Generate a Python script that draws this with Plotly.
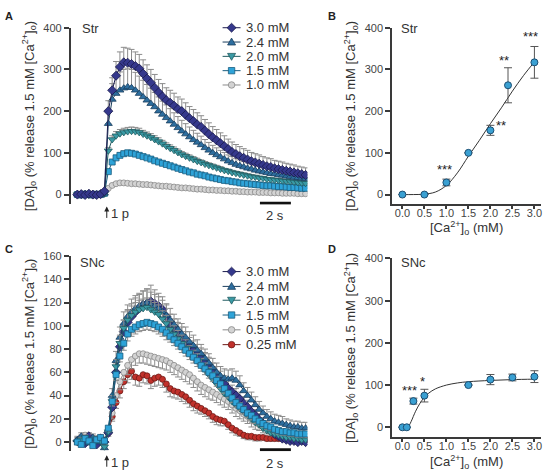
import plotly.graph_objects as go

W, H = 547, 473
def px(x): return x / W
def py(y): return 1 - y / H

# ---------------- data ----------------
T0 = -1.9      # first sample time (s), stimulus at 0
DT = 0.25      # sampling interval (s)

A_names = ["3.0 mM", "2.4 mM", "2.0 mM", "1.5 mM", "1.0 mM"]
A30 = [0, 1, -1, 2, 0, -1, 1, 8, 200, 250,
       285, 306, 317, 316, 313, 308, 302, 290, 278, 268,
       256, 245, 235, 226, 220, 213, 205, 200, 191, 183,
       176, 168, 162, 153, 145, 137, 130, 123, 116, 109,
       102, 97, 92, 88, 84, 80, 77, 74, 71, 68,
       66, 63, 61, 59, 57, 55, 53, 51, 49, 47]
A30_err = [2, 2, 2, 2, 2, 2, 2, 4, 25, 30,
           34, 36, 36, 35, 35, 34, 34, 33, 33, 32,
           32, 31, 31, 30, 30, 30, 29, 29, 29, 28,
           28, 28, 27, 27, 27, 26, 26, 25, 25, 24,
           24, 23, 23, 22, 22, 21, 21, 21, 20, 20,
           20, 19, 19, 19, 18, 18, 18, 17, 17, 17]
A24 = [1, 0, 2, -1, 1, 0, -1, 3, 170, 228,
       242, 250, 255, 258, 256, 250, 242, 234, 226, 218,
       210, 200, 192, 184, 176, 168, 160, 152, 145, 138,
       131, 125, 119, 112, 106, 100, 95, 90, 85, 80,
       76, 72, 69, 66, 63, 61, 58, 56, 54, 52,
       50, 49, 47, 46, 44, 43, 41, 40, 39, 38]
A24_err = [2, 2, 2, 2, 2, 2, 2, 3, 30, 38,
           42, 44, 45, 45, 44, 43, 42, 40, 38, 37,
           35, 34, 32, 31, 30, 28, 27, 26, 25, 24,
           23, 22, 21, 20, 19, 18, 17, 16, 16, 15,
           15, 14, 14, 13, 13, 12, 12, 12, 11, 11,
           11, 10, 10, 10, 10, 9, 9, 9, 9, 9]
A20 = [0, 1, 0, -1, 1, 2, 0, 2, 105, 132,
       141, 146, 149, 151, 152, 151, 149, 145, 141, 137,
       132, 127, 122, 116, 111, 106, 101, 96, 92, 88,
       84, 80, 77, 73, 70, 67, 64, 61, 58, 56,
       53, 51, 49, 47, 45, 43, 42, 40, 39, 37,
       36, 35, 34, 33, 32, 31, 30, 29, 28, 27]
A20_err = [1, 1, 1, 1, 1, 1, 1, 2, 8, 9,
           10, 10, 10, 10, 10, 10, 10, 9, 9, 9,
           9, 9, 8, 8, 8, 8, 8, 7, 7, 7,
           7, 7, 6, 6, 6, 6, 6, 6, 5, 5,
           5, 5, 5, 5, 5, 5, 4, 4, 4, 4,
           4, 4, 4, 4, 4, 4, 4, 4, 4, 4]
A15 = [0, -1, 1, 0, -1, 1, 0, 3, 55, 78,
       88, 94, 98, 100, 99, 97, 94, 91, 88, 85,
       81, 78, 75, 72, 69, 66, 63, 60, 57, 54,
       52, 49, 47, 45, 42, 40, 38, 36, 34, 33,
       31, 30, 28, 27, 26, 25, 24, 23, 22, 21,
       21, 20, 19, 19, 18, 17, 17, 16, 15, 15]
A15_err = [1, 1, 1, 1, 1, 1, 1, 1, 4, 5,
           6, 6, 6, 6, 6, 6, 5, 5, 5, 5,
           5, 5, 5, 5, 4, 4, 4, 4, 4, 4,
           4, 4, 4, 4, 4, 3, 3, 3, 3, 3,
           3, 3, 3, 3, 3, 3, 3, 3, 3, 3,
           3, 3, 3, 3, 3, 3, 3, 3, 3, 3]
A10 = [0, 1, 0, -1, 0, 1, 0, 2, 15, 22,
       26, 28, 28, 27, 26, 26, 25, 24, 24, 23,
       22, 21, 20, 20, 19, 18, 17, 16, 16, 15,
       14, 13, 13, 12, 11, 11, 10, 10, 9, 9,
       8, 8, 7, 7, 6, 6, 6, 5, 5, 5,
       4, 4, 4, 3, 3, 3, 3, 2, 2, 2]
A10_err = [1, 1, 1, 1, 1, 1, 1, 1, 3, 3,
           3, 3, 3, 3, 3, 3, 3, 3, 3, 3,
           3, 3, 3, 3, 3, 3, 3, 2, 2, 2,
           2, 2, 2, 2, 2, 2, 2, 2, 2, 2,
           2, 2, 2, 2, 2, 2, 2, 2, 2, 2,
           2, 2, 2, 2, 2, 2, 2, 2, 2, 2]

C_names = ["3.0 mM", "2.4 mM", "2.0 mM", "1.5 mM", "0.5 mM", "0.25 mM"]
C30 = [1, 3, -1, 5, 2, -2, 3, 0, 8, 30,
       60, 82, 95, 103, 108, 112, 115, 118, 119, 121,
       119, 117, 114, 108, 100, 97, 94, 90, 86, 82,
       79, 76, 73, 69, 65, 61, 58, 54, 50, 46,
       43, 40, 37, 33, 30, 26, 23, 19, 16, 13,
       10, 7, 5, 3, 2, 1, 1, 0, 1, 0]
C30_err = [3, 3, 3, 3, 3, 3, 3, 3, 4, 6,
           8, 9, 10, 11, 11, 12, 12, 12, 13, 14,
           12, 11, 11, 10, 10, 9, 9, 9, 9, 8,
           8, 8, 8, 8, 8, 7, 7, 7, 7, 7,
           6, 6, 6, 6, 6, 5, 5, 5, 5, 5,
           4, 4, 4, 3, 3, 3, 3, 3, 3, 3]
C24 = [2, 5, 3, -1, 4, 2, 0, -5, 10, 40,
       70, 90, 102, 108, 112, 115, 117, 119, 120, 118,
       117, 115, 112, 109, 105, 101, 97, 93, 90, 86,
       83, 79, 76, 72, 68, 64, 60, 57, 55, 54,
       55, 53, 49, 44, 40, 36, 32, 28, 25, 22,
       20, 18, 17, 16, 15, 14, 13, 13, 12, 12]
C24_err = [3, 3, 3, 3, 3, 3, 3, 3, 4, 6,
           8, 9, 10, 10, 11, 11, 11, 11, 11, 11,
           10, 10, 10, 10, 10, 9, 9, 9, 9, 9,
           9, 9, 8, 8, 8, 8, 8, 8, 8, 8,
           8, 8, 8, 7, 7, 7, 7, 7, 6, 6,
           6, 6, 6, 6, 5, 5, 5, 5, 5, 5]
C20 = [0, 2, 4, 1, -2, 3, 1, -4, 9, 35,
       65, 85, 98, 105, 109, 112, 114, 115, 116, 114,
       112, 110, 106, 102, 97, 93, 89, 85, 81, 77,
       73, 70, 66, 62, 58, 54, 50, 46, 42, 39,
       35, 32, 29, 26, 23, 20, 17, 15, 12, 10,
       8, 7, 6, 5, 4, 4, 3, 3, 2, 2]
C20_err = [2, 2, 2, 2, 2, 2, 2, 2, 3, 5,
           6, 7, 7, 8, 8, 8, 8, 8, 8, 8,
           8, 8, 7, 7, 7, 7, 7, 7, 7, 6,
           6, 6, 6, 6, 6, 6, 6, 5, 5, 5,
           5, 5, 5, 5, 4, 4, 4, 4, 4, 4,
           3, 3, 3, 3, 3, 3, 3, 3, 3, 3]
C15 = [0, -2, 3, 1, -3, 2, 4, 1, 12, 35,
       58, 74, 85, 93, 97, 99, 101, 102, 103, 102,
       101, 99, 97, 94, 91, 88, 85, 82, 79, 76,
       73, 70, 66, 63, 60, 57, 53, 50, 46, 42,
       38, 34, 31, 28, 25, 23, 20, 18, 16, 14,
       13, 11, 10, 9, 9, 8, 8, 7, 7, 7]
C15_err = [2, 2, 2, 2, 2, 2, 2, 2, 3, 4,
           5, 5, 6, 6, 6, 6, 6, 6, 6, 6,
           6, 6, 6, 6, 5, 5, 5, 5, 5, 5,
           5, 5, 5, 5, 5, 5, 5, 4, 4, 4,
           4, 4, 4, 4, 4, 4, 4, 3, 3, 3,
           3, 3, 3, 3, 3, 3, 3, 3, 3, 3]
C05 = [1, 4, 6, 2, -1, 3, 0, 2, 10, 25,
       40, 52, 60, 66, 71, 74, 76, 76, 75, 74,
       73, 72, 71, 70, 68, 66, 64, 62, 60, 58,
       55, 52, 49, 47, 45, 43, 41, 39, 37, 35,
       32, 29, 27, 24, 22, 19, 17, 15, 13, 12,
       10, 9, 8, 7, 5, 4, 3, 3, 2, 2]
C05_err = [2, 2, 2, 2, 2, 2, 2, 2, 3, 5,
           6, 7, 7, 8, 8, 8, 8, 8, 8, 8,
           8, 8, 8, 8, 8, 8, 8, 8, 8, 8,
           8, 8, 8, 8, 8, 7, 7, 7, 7, 7,
           7, 7, 7, 6, 6, 6, 6, 5, 5, 5,
           4, 4, 4, 3, 3, 3, 3, 2, 2, 2]
C025 = [0, 2, 5, 1, 3, -1, 2, 1, 8, 22,
        34, 44, 52, 58, 61, 56, 55, 58, 57, 53,
        55, 56, 54, 50, 46, 44, 43, 41, 39, 36,
        33, 31, 29, 27, 25, 22, 20, 19, 18, 15,
        12, 10, 8, 6, 5, 5, 4, 4, 4, 3,
        3, 3, 3, 3, 3, 2, 2, 2, 2, 2]
C025_err = [2, 2, 2, 2, 2, 2, 2, 2, 3, 4,
            5, 6, 6, 7, 7, 7, 7, 7, 7, 7,
            7, 7, 7, 7, 7, 6, 6, 6, 6, 6,
            6, 6, 5, 5, 5, 5, 5, 5, 4, 4,
            4, 4, 3, 3, 3, 3, 3, 3, 2, 2,
            2, 2, 2, 2, 2, 2, 2, 2, 2, 2]

B_conc = [0.0, 0.5, 1.0, 1.5, 2.0, 2.4, 3.0]
B_val = [0, 0, 29, 100, 154, 262, 317]
B_err = [0, 0, 8, 0, 12, 42, 38]
B_fit_x = [0.0, 0.25, 0.5, 0.75, 1.0, 1.25, 1.5, 1.75, 2.0, 2.25, 2.5, 2.75, 3.0]
B_fit_y = [0, 0, 1, 6, 22, 52, 92, 130, 170, 208, 248, 285, 318]

D_conc = [0.0, 0.1, 0.25, 0.5, 1.5, 2.0, 2.5, 3.0]
D_val = [0, 0, 62, 75, 100, 113, 118, 120]
D_err = [0, 0, 7, 15, 0, 12, 8, 14]
D_fit_x = [0.1, 0.15, 0.2, 0.3, 0.4, 0.5, 0.6, 0.75, 1.0, 1.25, 1.5, 2.0, 2.5, 3.0]
D_fit_y = [0, 4, 14, 38, 57, 71, 81, 91, 100, 105, 108, 111, 113, 114]

ticks_400 = [0, 100, 200, 300, 400]
ticks_160 = [0, 20, 40, 60, 80, 100, 120, 140, 160]
ticks_conc = [0.0, 0.5, 1.0, 1.5, 2.0, 2.5, 3.0]

# ---------------- styles ----------------
FONT = "Liberation Sans, Arial, sans-serif"
AX = "#3a3a3a"
TXT = "#333333"
ERRC = "#8c8c8c"
STY = {
    "3.0 mM": dict(symbol="diamond", fill="#35388c", edge="#1b1c4d", size=7),
    "2.4 mM": dict(symbol="triangle-up", fill="#2d6e9f", edge="#1b3f5e", size=7),
    "2.0 mM": dict(symbol="triangle-down", fill="#3a9aa5", edge="#1f5a60", size=7),
    "1.5 mM": dict(symbol="square", fill="#2ea3d8", edge="#1b5e80", size=6),
    "1.0 mM": dict(symbol="circle", fill="#d3d3d3", edge="#8a8a8a", size=6),
    "0.5 mM": dict(symbol="circle", fill="#d3d3d3", edge="#8a8a8a", size=6),
    "0.25 mM": dict(symbol="circle", fill="#c1312b", edge="#6e1a17", size=6),
}

fig = go.Figure()

def add_series(name, y, err, xa, ya, direction):
    s = STY[name]
    zeros = [0] * len(err)
    if direction == "up":
        ey = dict(type="data", symmetric=False, array=err, arrayminus=zeros,
                  color=ERRC, thickness=1, width=3)
    else:
        ey = dict(type="data", symmetric=False, array=zeros, arrayminus=err,
                  color=ERRC, thickness=1, width=3)
    fig.add_trace(go.Scatter(
        x0=T0, dx=DT, y=y, mode="lines+markers", name=name,
        xaxis=xa, yaxis=ya, showlegend=False,
        line=dict(color=s["edge"], width=1),
        marker=dict(symbol=s["symbol"], size=s["size"], color=s["fill"],
                    line=dict(color=s["edge"], width=0.8)),
        error_y=ey))

# Panel A (draw low series first)
A_data = [A30, A24, A20, A15, A10]
A_errs = [A30_err, A24_err, A20_err, A15_err, A10_err]
for i in reversed(range(len(A_names))):
    add_series(A_names[i], A_data[i], A_errs[i], "x", "y", "up")

# Panel C
C_data = [C30, C24, C20, C15, C05, C025]
C_errs = [C30_err, C24_err, C20_err, C15_err, C05_err, C025_err]
C_dirs = ["up", "up", "up", "down", "down", "down"]
for i in [5, 4, 0, 1, 2, 3]:
    add_series(C_names[i], C_data[i], C_errs[i], "x3", "y3", C_dirs[i])

# Panel B
fig.add_trace(go.Scatter(x=B_fit_x, y=B_fit_y, mode="lines", line=dict(color="#333", width=1, shape="spline"),
                         xaxis="x2", yaxis="y2", showlegend=False))
fig.add_trace(go.Scatter(x=B_conc, y=B_val, mode="markers", xaxis="x2", yaxis="y2", showlegend=False,
                         marker=dict(size=7, color="#3aa0d2", line=dict(color="#1d4f73", width=1)),
                         error_y=dict(type="data", array=B_err, color="#555", thickness=1, width=4)))
# Panel D
fig.add_trace(go.Scatter(x=D_fit_x, y=D_fit_y, mode="lines", line=dict(color="#333", width=1, shape="spline"),
                         xaxis="x4", yaxis="y4", showlegend=False))
fig.add_trace(go.Scatter(x=D_conc, y=D_val, mode="markers", xaxis="x4", yaxis="y4", showlegend=False,
                         marker=dict(size=7, color="#3aa0d2", line=dict(color="#1d4f73", width=1)),
                         error_y=dict(type="data", array=D_err, color="#555", thickness=1, width=4)))

YT = "[DA]<sub>o</sub> (% release 1.5 mM [Ca<sup>2+</sup>]<sub>o</sub>)"
XT = "[Ca<sup>2+</sup>]<sub>o</sub> (mM)"

def yax(domain, rng, tickvals, anchor):
    return dict(domain=domain, range=rng, anchor=anchor, showline=True, linecolor=AX, linewidth=2,
                ticks="outside", ticklen=5, tickwidth=1.5, tickcolor=AX, tickvals=tickvals,
                tickfont=dict(size=11, color="#444"), showgrid=False, zeroline=False,
                title=dict(text=YT, font=dict(size=13, color=TXT), standoff=6))

def xax_conc(domain, anchor):
    return dict(domain=domain, range=[-0.23, 3.15], anchor=anchor, showline=True, linecolor=AX,
                linewidth=2, ticks="outside", ticklen=3, tickwidth=1.5, tickcolor=AX,
                tickvals=ticks_conc, tickformat=".1f", tickfont=dict(size=11, color="#444"),
                ticklabelstandoff=-6, showgrid=False, zeroline=False)

shapes = [
    dict(type="line", xref="x", yref="y", x0=9.9, x1=11.9, y0=-21, y1=-21,
         line=dict(color="#111", width=3)),
    dict(type="line", xref="x3", yref="y3", x0=9.9, x1=11.9, y0=-6.5, y1=-6.5,
         line=dict(color="#111", width=3)),
]
ann = []

# hand-built legends (compact row spacing like the reference)
LX0, LX1, LMK, LTX = 223, 241, 232, 244

def poly(pts):
    return "M " + " L ".join("%.5f,%.5f" % (px(a), py(b)) for a, b in pts) + " Z"

def key_shape(symbol, cx, cy, fill, edge):
    base = dict(xref="paper", yref="paper", fillcolor=fill, line=dict(color=edge, width=0.8))
    if symbol == "diamond":
        return dict(type="path", path=poly([(cx, cy - 4.5), (cx + 4.5, cy), (cx, cy + 4.5), (cx - 4.5, cy)]), **base)
    if symbol == "triangle-up":
        return dict(type="path", path=poly([(cx, cy - 4), (cx + 4, cy + 3), (cx - 4, cy + 3)]), **base)
    if symbol == "triangle-down":
        return dict(type="path", path=poly([(cx, cy + 4), (cx + 4, cy - 3), (cx - 4, cy - 3)]), **base)
    if symbol == "square":
        return dict(type="rect", x0=px(cx - 3.2), x1=px(cx + 3.2), y0=py(cy + 3.2), y1=py(cy - 3.2), **base)
    return dict(type="circle", x0=px(cx - 3.3), x1=px(cx + 3.3), y0=py(cy + 3.3), y1=py(cy - 3.3), **base)

def legend_rows(names, rows):
    for name, yy in zip(names, rows):
        s = STY[name]
        shapes.append(dict(type="line", xref="paper", yref="paper", x0=px(LX0), x1=px(LX1),
                           y0=py(yy), y1=py(yy), line=dict(color=s["edge"], width=1)))
        shapes.append(key_shape(s["symbol"], LMK, yy, s["fill"], s["edge"]))
        ann.append(dict(text=name, x=px(LTX), y=py(yy), xref="paper", yref="paper", showarrow=False,
                        xanchor="left", yanchor="middle", font=dict(size=13, color=TXT)))

legend_rows(A_names, [22, 36.5, 51, 65.5, 80])
legend_rows(C_names, [269, 284, 298, 313, 328, 343])

for lab, x, y in [("A", 3, 2), ("B", 327, 2), ("C", 3, 238), ("D", 327, 238)]:
    ann.append(dict(text="<b>%s</b>" % lab, x=px(x), y=py(y), xref="paper", yref="paper",
                    xanchor="left", yanchor="top", showarrow=False, font=dict(size=11, color="#222")))
for lab, x, y in [("Str", 80, 23), ("Str", 400, 23), ("SNc", 78, 260), ("SNc", 400, 260)]:
    ann.append(dict(text=lab, x=px(x), y=py(y), xref="paper", yref="paper", xanchor="left",
                    yanchor="middle", showarrow=False, font=dict(size=13, color=TXT)))
for yy in [225, 462]:
    ann.append(dict(text=XT, x=px(467), y=py(yy), xref="paper", yref="paper", xanchor="center",
                    yanchor="middle", showarrow=False, font=dict(size=13, color=TXT)))
for xr, yb in [("x", 212), ("x3", 463)]:
    ann.append(dict(text="2 s", x=10.9, y=py(yb), xref=xr, yref="paper", xanchor="center",
                    yanchor="middle", showarrow=False, font=dict(size=13, color=TXT)))
for xr, ytip, ytxt in [("x", 203, 210), ("x3", 455, 462)]:
    ann.append(dict(text="", x=0, y=py(ytip), xref=xr, yref="paper", showarrow=True, ax=0, ay=13,
                    arrowhead=2, arrowsize=1, arrowwidth=1, arrowcolor="#222"))
    ann.append(dict(text="1 p", x=0, y=py(ytxt), xref=xr, yref="paper", xanchor="left", xshift=2,
                    yanchor="middle", showarrow=False, font=dict(size=13, color=TXT)))
# significance stars
for txt, x, y, xr, yr in [("***", 0.95, 61, "x2", "y2"), ("**", 2.24, 165, "x2", "y2"),
                          ("**", 2.32, 322, "x2", "y2"), ("***", 2.9, 379, "x2", "y2"),
                          ("***", 0.15, 86, "x4", "y4"), ("*", 0.45, 109, "x4", "y4")]:
    ann.append(dict(text=txt, x=x, y=y, xref=xr, yref=yr, showarrow=False,
                    font=dict(size=13, color="#222")))

fig.update_layout(
    width=W, height=H, margin=dict(l=0, r=0, t=0, b=0),
    paper_bgcolor="white", plot_bgcolor="white",
    font=dict(family=FONT, color=TXT), showlegend=False,
    xaxis=dict(domain=[px(71), px(308)], range=[-2.32, 12.97], visible=False, anchor="y"),
    yaxis=yax([py(201), py(22)], [-23.7, 400], ticks_400, "x"),
    xaxis2=xax_conc([px(393), px(542)], "y2"),
    yaxis2=yax([py(201), py(22)], [-23.7, 400], ticks_400, "x2"),
    xaxis3=dict(domain=[px(71), px(308)], range=[-2.32, 12.97], visible=False, anchor="y3"),
    yaxis3=yax([py(451), py(253.3)], [-7.9, 160], ticks_160, "x3"),
    xaxis4=xax_conc([px(393), px(542)], "y4"),
    yaxis4=yax([py(437), py(255.7)], [-24.1, 400], ticks_400, "x4"),
    shapes=shapes, annotations=ann,
)

fig.write_html(
    "out.html", config={"displayModeBar": False},
    post_script=("document.body.style.margin='0';document.body.style.padding='0';"
                 "var d=document.getElementById('{plot_id}');"
                 "d.style.position='absolute';d.style.left='0px';d.style.top='0px';"))
